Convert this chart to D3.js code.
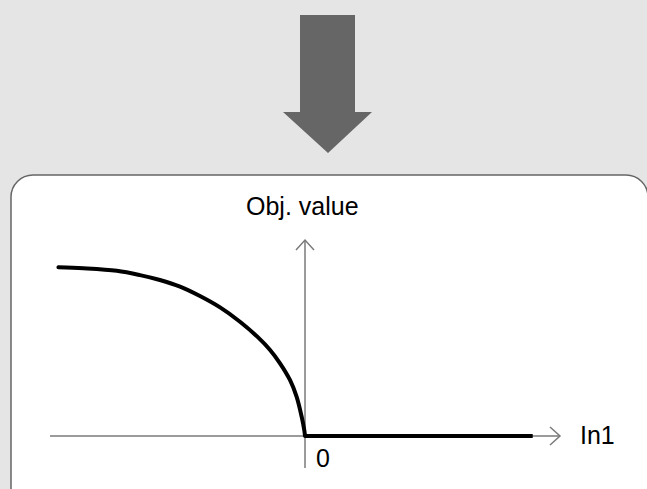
<!DOCTYPE html>
<html>
<head>
<meta charset="utf-8">
<script src="https://cdn.jsdelivr.net/npm/d3@7"></script>
<style>
html,body{margin:0;padding:0;background:#e5e5e5;}
svg{display:block;}
text{font-family:"Liberation Sans",Arial,sans-serif;fill:#000;}
</style>
</head>
<body>
<svg id="chart" width="647" height="489"></svg>
<script>
// Curve of objective value vs In1 (normalized units, axis origin at 0)
const curveX = [-0.967, -0.869, -0.738, -0.647, -0.569, -0.490, -0.412, -0.333, -0.255, -0.184, -0.137, -0.098, -0.059, -0.033, -0.013, -0.003, 0];
const curveY = [0.861, 0.856, 0.843, 0.821, 0.796, 0.762, 0.714, 0.656, 0.583, 0.503, 0.439, 0.371, 0.286, 0.201, 0.098, 0.031, 0];
const flatX = [0, 0.893];
const flatY = [0, 0];
const xAxisExtent = [-1, 1];
const yAxisExtent = [-0.163, 1];
const xLabel = "In1";
const yLabel = "Obj. value";
const originLabel = "0";

const svg = d3.select("#chart");

// background
svg.append("rect").attr("x",0).attr("y",0).attr("width",647).attr("height",489).attr("fill","#e5e5e5");

// big down arrow
const arrowPts = [[300,15],[355,15],[355,112],[372,112],[328,153],[283,112],[300,112]];
svg.append("path")
  .attr("d", d3.line()(arrowPts) + "Z")
  .attr("fill","#666666");

// panel
svg.append("rect")
  .attr("x",11).attr("y",175).attr("width",637).attr("height",340)
  .attr("rx",22).attr("ry",22)
  .attr("fill","#ffffff").attr("stroke","#666666").attr("stroke-width",1.5);

const x = d3.scaleLinear().domain([-1,1]).range([50,560]);
const y = d3.scaleLinear().domain([0,1]).range([436,240]);

const axisColor = "#7a7a7a";
// horizontal axis
svg.append("line")
  .attr("x1",x(xAxisExtent[0])).attr("x2",x(xAxisExtent[1]))
  .attr("y1",y(0)).attr("y2",y(0))
  .attr("stroke",axisColor).attr("stroke-width",1.5);
svg.append("path")
  .attr("d", d3.line()([[x(xAxisExtent[1])-10,y(0)-9],[x(xAxisExtent[1]),y(0)],[x(xAxisExtent[1])-10,y(0)+9]]))
  .attr("fill","none").attr("stroke",axisColor).attr("stroke-width",1.5);
// vertical axis
svg.append("line")
  .attr("x1",x(0)).attr("x2",x(0))
  .attr("y1",y(yAxisExtent[0])).attr("y2",y(yAxisExtent[1]))
  .attr("stroke",axisColor).attr("stroke-width",1.5);
svg.append("path")
  .attr("d", d3.line()([[x(0)-9,y(yAxisExtent[1])+10],[x(0),y(yAxisExtent[1])],[x(0)+9,y(yAxisExtent[1])+10]]))
  .attr("fill","none").attr("stroke",axisColor).attr("stroke-width",1.5);

// curve
const curveData = curveX.map((v,i)=>[v,curveY[i]]);
svg.append("path")
  .attr("d", d3.line().x(d=>x(d[0])).y(d=>y(d[1])).curve(d3.curveCatmullRom.alpha(0.5))(curveData))
  .attr("fill","none").attr("stroke","#000").attr("stroke-width",4).attr("stroke-linecap","round");
const flatData = flatX.map((v,i)=>[v,flatY[i]]);
svg.append("path")
  .attr("d", d3.line().x(d=>x(d[0])).y(d=>y(d[1]))(flatData))
  .attr("fill","none").attr("stroke","#000").attr("stroke-width",4);

// labels
svg.append("text").attr("x",246).attr("y",215).attr("font-size",25).text(yLabel);
svg.append("text").attr("x",580).attr("y",444).attr("font-size",25).text(xLabel);
svg.append("text").attr("x",316).attr("y",467).attr("font-size",25).text(originLabel);
</script>
</body>
</html>
